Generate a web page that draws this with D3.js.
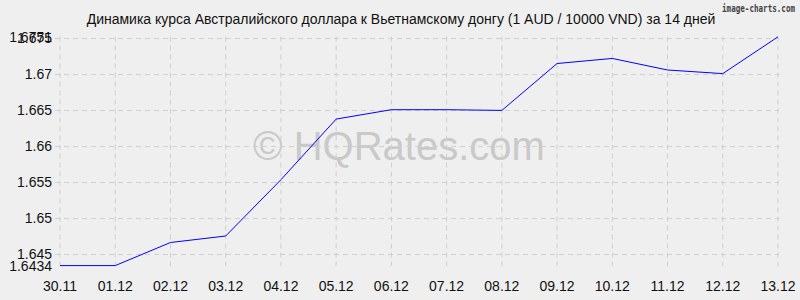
<!DOCTYPE html>
<html><head><meta charset="utf-8">
<script src="https://cdn.jsdelivr.net/npm/d3@7"></script>
<style>body{margin:0;background:#efefef}svg{display:block}</style>
</head><body>
<script>
const categories = ["30.11","01.12","02.12","03.12","04.12","05.12","06.12","07.12","08.12","09.12","10.12","11.12","12.12","13.12"];
const rates = [1.6434,1.6434,1.6466,1.6475,1.6553,1.6637,1.6650,1.6650,1.6649,1.6714,1.6721,1.6705,1.6700,1.6751];
const yTicks = [1.645,1.65,1.655,1.66,1.665,1.67,1.675];
const yTickLabels = ["1.645","1.65","1.655","1.66","1.665","1.67","1.675"];
const yMin = 1.6434, yMax = 1.6751;
const title = "Динамика курса Австралийского доллара к Вьетнамскому донгу (1 AUD / 10000 VND) за 14 дней";

const W = 800, H = 300;
const svg = d3.select("body").append("svg").attr("width", W).attr("height", H)
  .style("font-family", "'Liberation Sans', Arial, sans-serif");
svg.append("rect").attr("width", W).attr("height", H).attr("fill", "#efefef");

const x = d3.scalePoint().domain(categories).range([60, 778]);
const y = d3.scaleLinear().domain([yMin, yMax]).range([265.6, 36.8]);

// watermark
svg.append("text").attr("x", 399).attr("y", 160).attr("text-anchor", "middle")
  .attr("font-size", 40).attr("fill", "#c9c9c9").text("© HQRates.com");

const gridColor = "#cfcfcf";
svg.append("g").selectAll("line").data(categories).join("line")
  .attr("x1", d => x(d)).attr("x2", d => x(d)).attr("y1", 36.5).attr("y2", 266)
  .attr("stroke", gridColor).attr("stroke-dasharray", "5,4");
svg.append("g").selectAll("line").data(yTicks).join("line")
  .attr("x1", 55).attr("x2", 779).attr("y1", d => Math.round(y(d)) + 0.5).attr("y2", d => Math.round(y(d)) + 0.5)
  .attr("stroke", gridColor).attr("stroke-dasharray", "5,4");

const yLabs = yTicks.map((v, i) => ({v, t: yTickLabels[i]})).concat([{v: yMin, t: String(yMin)}, {v: yMax, t: String(yMax)}]);
svg.append("g").selectAll("text").data(yLabs).join("text")
  .attr("x", 52).attr("y", d => y(d.v) + 5).attr("text-anchor", "end")
  .attr("font-size", 14).attr("fill", "#111").text(d => d.t);

svg.append("g").selectAll("text").data(categories).join("text")
  .attr("x", d => x(d)).attr("y", 291).attr("text-anchor", "middle")
  .attr("font-size", 14).attr("fill", "#111").text(d => d);

const line = d3.line().x((d, i) => x(categories[i])).y(d => y(d));
svg.append("path").datum(rates).attr("d", line).attr("fill", "none")
  .attr("stroke", "#0000ff").attr("stroke-width", 1);

svg.append("text").attr("x", 401).attr("y", 24).attr("text-anchor", "middle")
  .attr("font-size", 14).attr("fill", "#111").text(title);

svg.append("text").attr("x", 722).attr("y", 12)
  .attr("font-size", 10).attr("font-family", "'DejaVu Sans Mono', monospace").attr("font-weight", "bold")
  .attr("textLength", 73).attr("lengthAdjust", "spacingAndGlyphs")
  .attr("fill", "#444").text("image-charts.com");
</script>
</body></html>
